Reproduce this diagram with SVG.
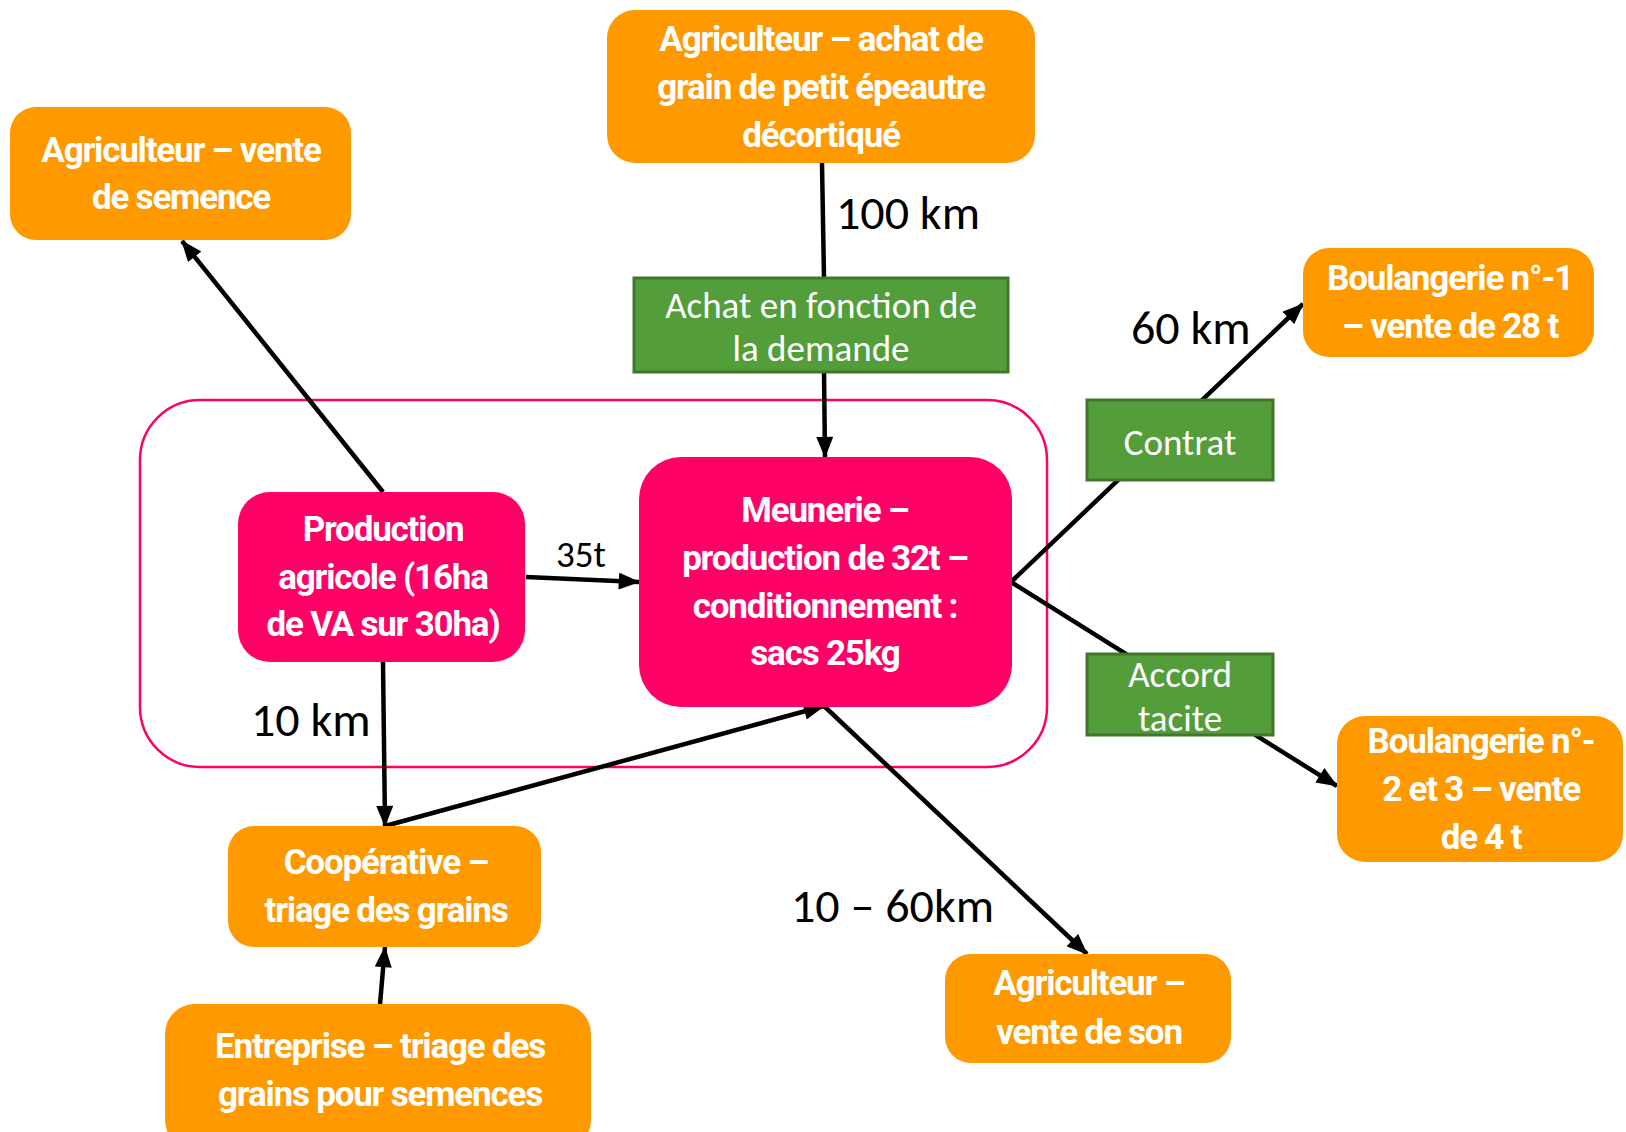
<svg xmlns="http://www.w3.org/2000/svg" width="1626" height="1132" viewBox="0 0 1626 1132">
<defs>
<marker id="ah" viewBox="0 0 20 16" refX="19" refY="8" markerWidth="22" markerHeight="17" markerUnits="userSpaceOnUse" orient="auto">
<path d="M0,0 L20,8 L0,16 z" fill="#000"/>
</marker>
<style>
.org{fill:#FF9900}
.pnk{fill:#FF0066}
.grn{fill:#539E3A;stroke:#41762C;stroke-width:3}
.nt{font-family:"Liberation Sans Narrow","Roboto","DejaVu Sans Condensed",sans-serif;font-weight:bold;font-size:35px;fill:#fff;text-anchor:middle;letter-spacing:-1.2px}
.gt{font-family:"Carlito","Lato","Open Sans",sans-serif;font-size:37px;fill:#fff;text-anchor:middle}
.lb{font-family:"Carlito","Lato","Open Sans",sans-serif;font-size:48px;fill:#000}
.sm{font-family:"Carlito","Lato","Open Sans",sans-serif;font-size:37px;fill:#000;text-anchor:middle}
.ln{stroke:#000;stroke-width:4.5;fill:none}
</style>
</defs>
<rect id="cadre" x="140" y="400" width="907" height="367" rx="60" ry="60" fill="none" stroke="#FF0066" stroke-width="2.5"/>
<g id="connectors">
<line class="ln" x1="822" y1="163" x2="824" y2="278"/>
<line class="ln" x1="824" y1="372" x2="825" y2="457" marker-end="url(#ah)"/>
<line class="ln" x1="383" y1="492" x2="182" y2="241" marker-end="url(#ah)"/>
<line class="ln" x1="526" y1="577" x2="639" y2="582" stroke-width="6" marker-end="url(#ah)"/>
<line class="ln" x1="383" y1="662" x2="385" y2="826" marker-end="url(#ah)"/>
<line class="ln" x1="385" y1="826" x2="824" y2="706" stroke-width="5.5" marker-end="url(#ah)"/>
<line class="ln" x1="824" y1="706" x2="1087" y2="954" marker-end="url(#ah)"/>
<line class="ln" x1="380" y1="1004" x2="385" y2="947" marker-end="url(#ah)"/>
<line class="ln" x1="1011" y1="582" x2="1303" y2="304" marker-end="url(#ah)"/>
<line class="ln" x1="1011" y1="582" x2="1337" y2="786" marker-end="url(#ah)"/>
</g>
<g id="lbl-100km"><text class="lb" x="836" y="229">100 km</text></g>
<g id="lbl-60km"><text class="lb" x="1131" y="344">60 km</text></g>
<g id="lbl-10km"><text class="lb" x="251" y="736">10 km</text></g>
<g id="lbl-1060km"><text class="lb" x="791" y="922">10 – 60km</text></g>
<g id="lbl-35t"><text class="sm" x="581" y="567">35t</text></g>

<g id="n-vente-semence">
<rect class="org" x="10" y="107" width="341" height="133" rx="26"/>
<text class="nt" x="181" y="162">Agriculteur – vente</text>
<text class="nt" x="181" y="209">de semence</text>
</g>
<g id="n-achat-grain">
<rect class="org" x="607" y="10" width="428" height="153" rx="28"/>
<text class="nt" x="821" y="51">Agriculteur – achat de</text>
<text class="nt" x="821" y="99">grain de petit épeautre</text>
<text class="nt" x="821" y="147">décortiqué</text>
</g>
<g id="n-achat-demande">
<rect class="grn" x="634" y="278" width="374" height="94"/>
<text class="gt" x="821" y="318">Achat en fonction de</text>
<text class="gt" x="821" y="361">la demande</text>
</g>
<g id="n-boul1">
<rect class="org" x="1303" y="248" width="291" height="109" rx="26"/>
<text class="nt" x="1450" y="290">Boulangerie n°-1</text>
<text class="nt" x="1450" y="338">– vente de 28 t</text>
</g>
<g id="n-contrat">
<rect class="grn" x="1087" y="400" width="186" height="80"/>
<text class="gt" x="1180" y="455">Contrat</text>
</g>
<g id="n-production">
<rect class="pnk" x="238" y="492" width="287" height="170" rx="32"/>
<text class="nt" x="383" y="541">Production</text>
<text class="nt" x="383" y="589">agricole (16ha</text>
<text class="nt" x="383" y="636">de VA sur 30ha)</text>
</g>
<g id="n-meunerie">
<rect class="pnk" x="639" y="457" width="373" height="250" rx="42"/>
<text class="nt" x="825" y="522">Meunerie –</text>
<text class="nt" x="825" y="570">production de 32t –</text>
<text class="nt" x="825" y="618">conditionnement :</text>
<text class="nt" x="825" y="665">sacs 25kg</text>
</g>
<g id="n-accord">
<rect class="grn" x="1087" y="654" width="186" height="81"/>
<text class="gt" x="1180" y="687">Accord</text>
<text class="gt" x="1180" y="731">tacite</text>
</g>
<g id="n-boul2">
<rect class="org" x="1337" y="716" width="286" height="146" rx="28"/>
<text class="nt" x="1481" y="753">Boulangerie n°-</text>
<text class="nt" x="1481" y="801">2 et 3 – vente</text>
<text class="nt" x="1481" y="849">de 4 t</text>
</g>
<g id="n-cooperative">
<rect class="org" x="228" y="826" width="313" height="121" rx="26"/>
<text class="nt" x="386" y="874">Coopérative –</text>
<text class="nt" x="386" y="922">triage des grains</text>
</g>
<g id="n-vente-son">
<rect class="org" x="945" y="954" width="286" height="109" rx="26"/>
<text class="nt" x="1089" y="995">Agriculteur –</text>
<text class="nt" x="1089" y="1044">vente de son</text>
</g>
<g id="n-entreprise">
<rect class="org" x="165" y="1004" width="426" height="146" rx="30"/>
<text class="nt" x="380" y="1058">Entreprise – triage des</text>
<text class="nt" x="380" y="1106">grains pour semences</text>
</g>
</svg>
